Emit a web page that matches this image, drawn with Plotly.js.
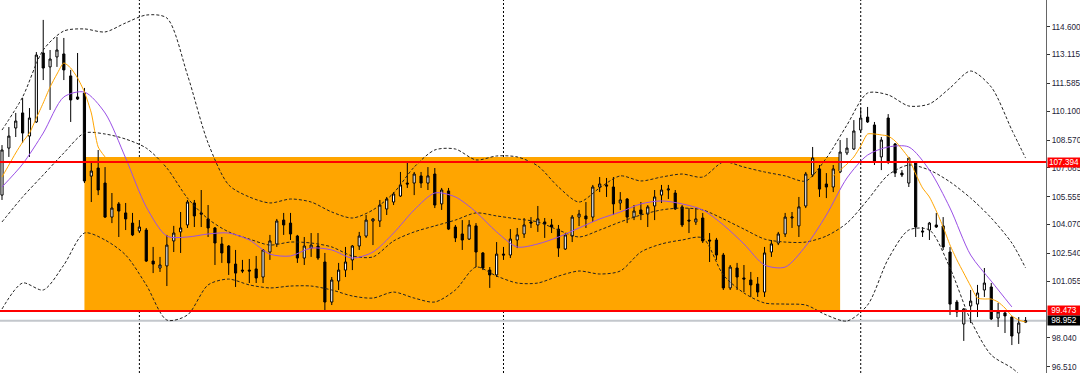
<!DOCTYPE html>
<html><head><meta charset="utf-8">
<script src="https://cdn.plot.ly/plotly-3.0.1.min.js"></script>
<style>html,body{margin:0;padding:0;background:#fff;}#chart{width:1080px;height:373px;}</style>
</head><body><div id="chart"></div>
<script>
// ---- candle data ----
const opens = [105.64,108.14,109.21,110.01,108.78,109.53,113.20,112.46,112.99,113.15,111.98,110.86,111.07,106.65,107.08,106.28,104.47,105.17,104.69,104.15,
103.73,103.78,102.13,101.76,101.87,103.20,103.68,104.05,105.22,104.69,104.37,103.89,103.04,102.93,101.97,101.65,101.65,101.71,101.28,102.61,
103.04,104.31,104.15,103.46,102.29,102.82,102.93,102.08,99.95,101.07,101.65,102.19,102.93,103.46,104.26,104.26,104.90,105.27,105.59,106.28,
106.28,106.66,106.28,106.76,105.17,105.86,103.94,103.57,103.30,104.00,102.56,101.65,101.39,102.50,102.45,103.25,103.57,104.21,104.05,104.21,
104.05,103.83,102.77,103.46,104.47,104.53,104.47,106.07,106.18,106.07,105.22,105.43,104.47,104.85,104.63,105.06,105.64,105.91,105.75,105.01,
104.31,104.21,104.42,103.25,103.25,102.45,100.70,101.76,101.23,101.12,100.91,100.48,102.61,103.09,103.57,104.42,104.00,105.06,106.71,107.03,
106.23,106.07,106.87,107.88,108.09,109.10,109.79,109.37,107.67,109.74,108.36,106.81,106.28,107.35,103.73,103.78,104.05,104.00,102.61,99.95,
98.78,99.74,99.84,100.59,100.75,99.10,99.37,99.15,98.30,98.88];
const highs = [108.30,109.26,110.01,110.81,110.27,113.25,114.96,113.36,114.05,114.00,112.30,113.20,111.34,107.35,108.04,107.13,105.75,105.27,105.22,104.69,
104.31,103.89,102.88,102.35,103.52,104.00,104.74,105.38,105.38,105.91,105.11,103.94,103.41,102.98,102.72,102.19,102.24,102.40,102.77,103.52,
104.37,104.69,104.69,103.52,103.41,103.62,103.62,102.56,101.28,102.03,102.88,102.98,103.68,104.58,104.40,105.38,105.54,105.80,106.87,107.35,
106.87,106.87,107.13,107.08,106.02,106.02,104.05,104.31,104.31,104.15,102.61,101.81,103.14,102.88,103.83,103.89,104.42,104.47,105.06,104.42,
104.37,104.05,103.62,104.58,104.85,105.27,106.18,106.60,106.55,106.60,105.80,105.48,105.11,105.27,105.11,105.91,106.18,106.18,105.91,105.11,
104.95,104.95,104.69,103.62,103.36,102.56,101.92,102.03,101.92,101.55,101.28,102.88,103.25,103.68,104.69,104.74,105.54,106.87,108.20,107.24,
106.81,107.24,108.57,108.68,109.63,110.27,110.33,109.53,108.73,109.95,108.41,106.97,107.67,107.40,103.94,104.21,104.69,104.47,102.88,100.06,
99.63,100.59,100.86,101.76,100.96,99.90,99.47,99.18,99.15,99.15];
const lows = [105.38,107.67,108.73,108.41,107.67,109.48,111.76,110.17,112.46,111.76,109.53,110.70,106.28,105.27,105.64,104.42,104.15,103.41,103.78,103.46,
103.62,102.08,101.49,101.55,100.80,102.61,102.56,103.89,103.94,103.94,103.41,101.92,102.03,101.39,100.75,101.49,100.96,100.96,100.96,102.19,
102.88,103.52,103.25,102.03,101.92,102.35,102.19,99.52,99.79,100.59,101.28,101.65,102.72,103.36,102.98,103.94,104.58,105.11,105.54,106.02,
105.64,106.02,105.91,104.95,104.85,103.78,103.14,102.72,103.25,101.81,101.65,100.70,101.28,102.19,102.29,102.82,103.36,103.89,103.68,103.36,
103.62,102.35,102.72,103.14,103.99,103.89,104.21,105.80,105.54,104.58,104.85,104.15,104.31,104.31,103.94,104.31,105.22,105.43,104.85,103.94,
103.62,104.05,103.09,102.08,102.19,100.59,100.59,100.59,100.48,100.22,100.22,100.22,102.35,102.98,103.41,103.89,103.41,104.95,106.60,105.54,
105.48,105.80,106.81,107.77,108.04,108.94,109.48,107.24,106.97,107.29,106.60,106.60,106.07,103.41,103.41,103.25,103.89,102.72,99.26,99.15,
97.88,98.83,99.15,100.22,98.99,98.62,98.30,97.66,97.72,98.83];
const closes = [108.04,108.78,109.58,108.94,109.74,113.09,112.40,112.88,113.36,112.30,110.70,110.75,106.39,106.92,105.91,104.47,104.95,104.79,104.37,103.52,
103.94,102.13,101.97,101.92,102.98,103.62,103.89,105.27,104.53,104.63,103.89,103.09,102.56,102.03,101.49,101.60,101.60,101.23,102.72,103.20,
104.26,104.05,103.57,102.29,102.93,102.98,102.29,99.95,101.12,101.65,102.08,102.93,103.46,104.31,104.37,105.11,105.43,105.70,106.18,106.23,
106.76,106.28,106.66,105.11,105.91,103.83,103.36,103.25,104.05,102.61,101.76,101.39,102.50,102.45,103.30,103.52,104.05,104.15,104.37,104.10,
103.94,102.82,103.52,104.47,104.63,104.37,106.07,106.23,106.12,105.17,105.38,104.47,104.79,104.63,105.01,105.54,105.91,105.96,104.90,104.05,
104.26,104.37,103.20,103.20,102.45,100.70,101.81,101.28,101.17,100.86,100.48,102.56,103.04,103.57,104.47,104.47,105.01,106.76,107.61,105.96,
106.07,107.03,107.93,108.14,109.05,109.74,109.53,107.45,108.57,107.40,106.81,106.71,107.61,103.94,103.68,104.15,103.94,102.88,99.84,99.42,
99.58,100.00,100.43,100.96,99.05,99.42,99.21,98.14,98.83,98.952];

// ---- indicator lines ----
const bandIdx = [0,3,6,9,12,15,18,21,24,27,30,33,36,39,42,45,48,51,54,57,60,63,66,69,72,75,78,81,84,87,90,93,96,99,102,105,108,111,114,117,120,123,126,129,132,135,138,141,144,147,149];
const upperBand = [109.10,110.86,113.36,114.37,114.48,114.32,114.80,115.22,115.06,112.03,108.41,106.18,105.54,105.22,105.43,105.27,104.74,104.42,104.85,105.75,
107.13,108.04,108.09,107.51,107.72,107.67,107.19,106.07,105.27,106.02,106.66,106.39,106.60,106.76,106.60,107.40,107.13,106.87,106.66,106.39,
107.61,109.37,111.07,110.97,110.38,110.49,111.34,112.24,111.39,109.10,107.61];
const middleBand = [104.21,105.54,106.71,107.88,108.94,108.89,108.62,108.14,107.08,105.48,104.37,103.68,103.30,102.98,103.14,103.09,102.88,102.40,102.35,103.20,
103.68,104.00,104.31,104.69,104.53,104.37,104.21,103.78,103.41,103.78,104.21,104.58,104.85,104.95,104.85,104.37,103.83,103.30,103.14,103.14,
103.46,104.15,105.38,106.71,107.24,106.97,106.34,105.48,104.42,103.09,101.76];
const lowerBand = [99.58,100.96,100.59,101.92,103.62,103.25,102.45,100.86,98.99,99.26,100.86,101.17,100.86,100.70,100.80,100.80,100.59,100.27,100.16,100.48,
100.16,99.95,100.59,101.81,101.33,100.96,100.96,101.33,101.60,101.44,101.60,102.61,103.04,103.25,103.36,101.39,100.43,99.90,99.84,99.79,
99.26,98.94,99.79,102.24,103.78,103.78,101.76,98.99,97.13,96.44,95.80];
const purpleIdx = [0,3,6,9,12,15,18,21,24,27,30,33,36,39,42,45,48,51,54,57,60,63,66,69,72,75,78,81,84,87,90,93,96,99,102,105,108,111,114,117,120,123,126,129,132,135,138,141,144,147];
const purpleMA = [106.07,107.29,108.94,110.86,111.12,110.01,107.61,105.01,103.46,103.41,103.57,103.62,103.25,102.50,102.40,102.82,102.72,102.29,102.61,103.62,
104.85,105.75,105.54,104.74,103.68,102.88,103.04,103.41,103.89,104.37,104.74,105.17,105.33,105.17,104.85,104.05,103.04,101.92,101.81,102.93,
104.58,106.55,107.77,108.20,108.20,106.97,104.95,102.45,101.06,99.69];
const orangeIdxLeft = [0,1,2,3,4,5,6,7,8,9,10,11,12,13,14,15];
const orangeLeft = [106.60,107.24,107.88,108.46,108.94,109.74,110.54,111.39,112.08,112.67,112.40,111.87,111.12,110.01,108.20,107.67];
const orangeIdxRight = [121,122,123,124,125,126,127,128,129,130,131,132,133,134,135,136,137,138,139,140,141,142,143,144,145,146,147,148,149];
const orangeRight = [106.66,106.97,107.29,107.67,108.25,108.89,108.89,108.84,108.78,108.52,108.09,107.61,106.76,106.02,105.54,104.79,103.94,102.98,102.19,101.49,
100.80,100.16,100.11,100.11,99.95,99.63,99.21,98.99,98.89];

// ---- levels, zone, separators, ticks ----
const levelUpper = 107.394, levelLower = 99.473, bidPrice = 98.952;
const zoneTop = 107.67, zoneBottom = 99.52, zoneStart = 12, zoneEnd = 122;
const separators = [20, 73, 125];
const tickVals = [114.6,113.115,111.585,110.1,108.57,107.085,105.555,104.07,102.54,101.055,98.04,96.51];
const tickText = ['114.600','113.115','111.585','110.100','108.570','107.085','105.555','104.070','102.540','101.055','98.040','96.510'];
const topLabel = '116.130';

const FONT = '"Liberation Sans", Arial, sans-serif';
const FSIZE = 8.2;
const idx = opens.map((_, i) => i);

const traces = [
  {type:'candlestick', x: idx, open: opens, high: highs, low: lows, close: closes,
   increasing:{line:{color:'#000', width:1}, fillcolor:'#ffffff'},
   decreasing:{line:{color:'#000', width:1}, fillcolor:'#000000'},
   whiskerwidth:0, hoverinfo:'skip', showlegend:false},
  {type:'scatter', mode:'lines', x: bandIdx, y: upperBand, line:{color:'#222', width:1, dash:'3px,2px', shape:'spline', smoothing:0.8}, hoverinfo:'skip', showlegend:false},
  {type:'scatter', mode:'lines', x: bandIdx, y: middleBand, line:{color:'#222', width:1, dash:'3px,2px', shape:'spline', smoothing:0.8}, hoverinfo:'skip', showlegend:false},
  {type:'scatter', mode:'lines', x: bandIdx, y: lowerBand, line:{color:'#222', width:1, dash:'3px,2px', shape:'spline', smoothing:0.8}, hoverinfo:'skip', showlegend:false},
  {type:'scatter', mode:'lines', x: purpleIdx, y: purpleMA, line:{color:'#9a4fe6', width:1, shape:'spline', smoothing:0.8}, hoverinfo:'skip', showlegend:false},
  {type:'scatter', mode:'lines', x: orangeIdxLeft, y: orangeLeft, line:{color:'#FFA500', width:1, shape:'spline', smoothing:0.6}, hoverinfo:'skip', showlegend:false},
  {type:'scatter', mode:'lines', x: orangeIdxRight, y: orangeRight, line:{color:'#FFA500', width:1, shape:'spline', smoothing:0.6}, hoverinfo:'skip', showlegend:false}
];

const shapes = [
  {type:'rect', layer:'below', xref:'x', yref:'y', x0: zoneStart, x1: zoneEnd, y0: zoneBottom, y1: zoneTop, fillcolor:'#FFA500', line:{width:0}}
];
separators.forEach(s => shapes.push({type:'line', layer:'below', xref:'x', yref:'paper', x0:s, x1:s, y0:0, y1:1, line:{color:'#000', width:1, dash:'2px,2px'}}));
shapes.push({type:'line', layer:'below', xref:'paper', yref:'y', x0:0, x1:1, y0:bidPrice, y1:bidPrice, line:{color:'#c3c7cc', width:2}});
[levelUpper, levelLower].forEach(v => shapes.push({type:'line', layer:'above', xref:'paper', yref:'y', x0:0, x1:1, y0:v, y1:v, line:{color:'#ff0000', width:2}}));

function priceBox(v, txt, bg) {
  return {xref:'paper', yref:'y', x:1, xanchor:'left', xshift:1, y:v, yanchor:'middle', text:txt, showarrow:false,
          bgcolor:bg, font:{family:FONT, size:FSIZE, color:'#ffffff'}, borderpad:0, width:32, height:9, align:'center'};
}
const annotations = [
  priceBox(levelUpper, levelUpper.toFixed(3), '#ff0000'),
  priceBox(levelLower, levelLower.toFixed(3), '#ff0000'),
  priceBox(bidPrice, bidPrice.toFixed(3), '#000000'),
  {xref:'paper', yref:'paper', x:1, xanchor:'left', xshift:3, y:1.0054, yanchor:'middle', text:topLabel, showarrow:false,
   font:{family:FONT, size:FSIZE, color:'#1e2438'}}
];

const layout = {
  width:1080, height:373,
  margin:{l:0, r:34, t:0, b:0},
  paper_bgcolor:'#ffffff', plot_bgcolor:'#ffffff',
  showlegend:false, boxgap:0.55,
  xaxis:{range:[-0.291, 151.97], visible:false, rangeslider:{visible:false}, fixedrange:true, showgrid:false, zeroline:false},
  yaxis:{range:[96.173, 116.02], side:'right', tickvals:tickVals, ticktext:tickText, ticks:'outside', ticklen:3, tickcolor:'#333',
         ticklabelstandoff:0,
         showline:true, linecolor:'#666', linewidth:1, showgrid:false, zeroline:false, fixedrange:true,
         tickfont:{family:FONT, size:FSIZE, color:'#1e2438'}},
  shapes: shapes, annotations: annotations,
  hovermode:false
};
Plotly.newPlot('chart', traces, layout, {staticPlot:true, displayModeBar:false});
</script></body></html>
